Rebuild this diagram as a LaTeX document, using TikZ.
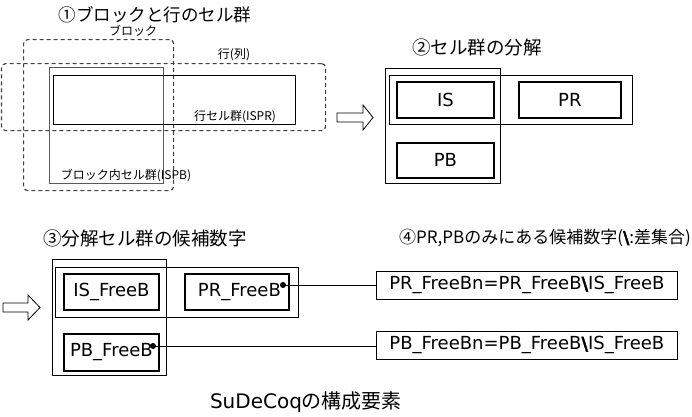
\documentclass[tikz,border=0pt]{standalone}
\usepackage{fontspec}
\setmainfont{Noto Sans CJK JP}
\newfontfamily\latf{DejaVu Sans}
\newfontfamily\bsf[FakeBold=2]{DejaVu Sans Bold}
\newcommand{\bsl}{{\bsf\textbackslash}}
\begin{document}
\begin{tikzpicture}[x=1pt,y=-1pt,
  title/.style={font=\fontsize{18.5}{22}\selectfont, inner sep=0},
  small/.style={font=\fontsize{12}{14}\selectfont, inner sep=0},
  dbox/.style={draw=black!75, dash pattern=on 4pt off 3pt, line width=1.2pt, rounded corners=4pt, anchor=north west, inner sep=0},
  gbox/.style={draw=black!65, line width=0.9pt, anchor=north west, inner sep=0},
  tbox/.style={draw=black, line width=0.8pt, anchor=north west, inner sep=0},
  thbox/.style={draw=black, line width=1.8pt, anchor=north west, inner sep=0, font=\latf\fontsize{18}{21}\selectfont},
  harrow/.style={draw=black, line width=0.8pt, fill=white},
  dotc/.style={circle, fill=black, inner sep=0, minimum size=6pt}]
\useasboundingbox (0,0) rectangle (692,416);

% ---------- 1 ----------
\node[title, font=\fontsize{17.5}{21}\selectfont] (t1) at (155,15) {①ブロックと行のセル群};
\node[dbox, minimum width=150, minimum height=151] (blk) at (23,39) {};
\node[dbox, minimum width=324, minimum height=67] (row) at (1,63) {};
\node[small] (lblk) at (133,31) {ブロック};
\node[small] (lrow) at (234,55) {行(列)};
\node[gbox, minimum width=114, minimum height=116] (ispb) at (49,67) {};
\node[tbox, minimum width=242, minimum height=49] (ispr) at (53,75) {};
\node[small] (lispr) at (235,117) {行セル群(ISPR)};
\node[small] (lispb) at (126,176) {ブロック内セル群(ISPB)};

% arrow 1
\draw[harrow] (337,113) -- (363,113) -- (363,105) -- (373,117.5) -- (363,130) -- (363,122) -- (337,122) -- cycle;

% ---------- 2 ----------
\node[title] (t2) at (477,47) {②セル群の分解};
\node[tbox, minimum width=115, minimum height=115] (col2) at (385,68) {};
\node[tbox, minimum width=243, minimum height=49] (row2) at (389,75) {};
\node[thbox, minimum width=97, minimum height=36] (is) at (396,81) {IS};
\node[thbox, minimum width=102, minimum height=36] (pr) at (518,81) {PR};
\node[thbox, minimum width=97, minimum height=35] (pb) at (396,142) {PB};

% ---------- 3 ----------
\node[title] (t3) at (145,238) {③分解セル群の候補数字};
\draw[harrow] (3,303) -- (28,303) -- (28,295) -- (40,307.5) -- (28,320) -- (28,312) -- (3,312) -- cycle;
\node[tbox, minimum width=114, minimum height=116] (col3) at (52,259) {};
\node[tbox, minimum width=243, minimum height=50] (row3) at (55,267) {};
\node[thbox, minimum width=95, minimum height=36] (isf) at (63,273) {IS\_FreeB};
\node[thbox, minimum width=104, minimum height=36] (prf) at (184,273) {\hspace{5pt}PR\_FreeB};
\node[thbox, minimum width=95, minimum height=37] (pbf) at (63,333) {PB\_FreeB};
\node[dotc] (d1) at (283,285) {};
\node[dotc] (d2) at (153,346) {};

% ---------- 4 ----------
\node[title, font=\fontsize{17}{20}\selectfont] (t4) at (545,238) {④PR,PBのみにある候補数字(\bsl:差集合)};
\node[tbox, minimum width=301, minimum height=28, font=\latf\fontsize{18}{21}\selectfont] (r1) at (376,271) {PR\_FreeBn=PR\_FreeB\bsl IS\_FreeB};
\node[tbox, minimum width=301, minimum height=28, font=\latf\fontsize{18}{21}\selectfont] (r2) at (376,331) {PB\_FreeBn=PB\_FreeB\bsl IS\_FreeB};
\draw[line width=0.8pt] (d1.center) -- (d1.center -| r1.west);
\draw[line width=0.8pt] (d2.center) -- (d2.center -| r2.west);

% ---------- bottom ----------
\node[title, font=\fontsize{20}{23}\selectfont] (t5) at (306,402) {{\latf SuDeCoq}の構成要素};
\end{tikzpicture}
\end{document}
